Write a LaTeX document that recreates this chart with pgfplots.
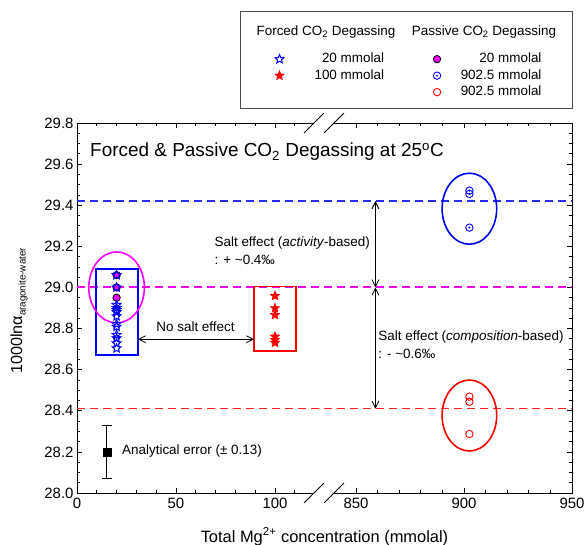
\documentclass[border=0pt]{standalone}
\usepackage{fontspec}
\setmainfont{Liberation Sans}
\usepackage{pgfplots}
\pgfplotsset{compat=1.18}
\usetikzlibrary{arrows.meta}
\definecolor{mblue}{RGB}{0,0,255}
\definecolor{mmag}{RGB}{255,0,255}
\definecolor{mred}{RGB}{255,0,0}
\definecolor{dblue}{RGB}{40,40,255}
\definecolor{dmag}{RGB}{240,0,240}
\definecolor{dred}{RGB}{255,30,30}

\newcommand{\starpath}{%
 \pgfpathmoveto{\pgfpointpolar{90}{\pgfplotmarksize}}%
 \pgfpathlineto{\pgfpointpolar{126}{0.45\pgfplotmarksize}}%
 \pgfpathlineto{\pgfpointpolar{162}{\pgfplotmarksize}}%
 \pgfpathlineto{\pgfpointpolar{198}{0.45\pgfplotmarksize}}%
 \pgfpathlineto{\pgfpointpolar{234}{\pgfplotmarksize}}%
 \pgfpathlineto{\pgfpointpolar{270}{0.45\pgfplotmarksize}}%
 \pgfpathlineto{\pgfpointpolar{306}{\pgfplotmarksize}}%
 \pgfpathlineto{\pgfpointpolar{342}{0.45\pgfplotmarksize}}%
 \pgfpathlineto{\pgfpointpolar{18}{\pgfplotmarksize}}%
 \pgfpathlineto{\pgfpointpolar{54}{0.45\pgfplotmarksize}}%
 \pgfpathclose}
\pgfdeclareplotmark{ostar}{\starpath\pgfusepathqstroke}
\pgfdeclareplotmark{fstar}{\starpath\pgfusepathqfillstroke}
\pgfdeclareplotmark{odot}{\pgfpathcircle{\pgfpointorigin}{\pgfplotmarksize}\pgfusepathqstroke
  \pgfpathcircle{\pgfpointorigin}{0.3\pgfplotmarksize}\pgfusepathqfill}

\pgfplotsset{
  legimg/.style={only marks, legend image code/.code={\path[draw=none,fill=none] (-5bp,-4bp) rectangle (5bp,4bp); \draw[##1] plot coordinates {(0bp,0bp)};}},
  bstar/.style={color=mblue, only marks, mark=ostar, mark size=4.6bp, mark options={line width=1bp}},
  rstar/.style={color=mred, only marks, mark=fstar, mark size=4.8bp, mark options={fill=mred, line width=0.6bp}},
  mcirc/.style={only marks, mark=*, mark size=3.7bp, mark options={fill=mmag, draw=black, line width=0.8bp}},
  bring/.style={color=mblue, only marks, mark=odot, mark size=3.7bp, mark options={fill=mblue, line width=0.9bp}},
  rring/.style={color=mred, only marks, mark=o, mark size=3.7bp, mark options={line width=0.9bp}},
}
\tikzset{sarrow/.style={{Straight Barb[length=7bp,width=7bp]}-{Straight Barb[length=7bp,width=7bp]}, line width=0.8bp, black}}

\begin{document}
\begin{tikzpicture}
\begin{axis}[
  at={(0,0)}, anchor=south west,
  width=495bp, height=370bp, scale only axis,
  x coord trafo/.code={\pgfmathparse{#1<500 ? 1.98*#1 : 279+(#1-850)*2.16}},
  x coord inv trafo/.code={\pgfmathparse{#1<240 ? #1/1.98 : 850+(#1-279)/2.16}},
  xmin=0, xmax=950, ymin=28, ymax=29.8,
  xtick={0,50,100,850,900,950}, xticklabels={0,50,100,850,900,950},
  minor xtick={10,20,30,40,60,70,80,90,110,860,870,880,890,910,920,930,940},
  ytick={28.0,28.2,28.4,28.6,28.8,29.0,29.2,29.4,29.6,29.8},
  minor y tick num=3,
  tick align=inside, xtick pos=both, ytick pos=both,
  major tick length=5bp, minor tick length=3bp,
  axis line style={line width=0.9bp},
  tick style={line width=0.7bp, black},
  /pgf/number format/assume math mode=true,
  ticklabel style={font=\fontsize{15}{15}\selectfont},
  xticklabel style={yshift=-1.5bp},
  yticklabel style={/pgf/number format/.cd, fixed, fixed zerofill, precision=1},
  xlabel={Total Mg\textsuperscript{2+} concentration (mmolal)},
  xlabel style={font=\fontsize{16.5}{18}\selectfont, at={(axis description cs:0.5,-0.118)}, anchor=center},
  ylabel={1000lnα\raisebox{-3.5bp}{\fontsize{9.8}{10}\selectfont aragonite-water}},
  ylabel style={font=\fontsize{16.2}{18}\selectfont, at={(axis description cs:-0.117,0.492)}, anchor=center},
  clip=false,
  legend columns=2,
  legend cell align=right,
  legend style={at={(axis description cs:0.9408,1.1933)}, anchor=north east,
    draw=none, fill=none, inner sep=0pt, row sep=1.5bp,
    nodes={inner sep=1bp, text height=10bp, text depth=3bp, font=\fontsize{13.5}{15}\selectfont},
    /tikz/column 1/.style={column sep=29bp},
    /tikz/column 2/.style={column sep=47bp},
    /tikz/column 3/.style={column sep=17.7bp}},
]
% reference lines
\draw[dblue, dash pattern=on 8bp off 5bp, line width=1.3bp] (axis cs:0,29.42) -- (axis cs:950,29.42);
\draw[dmag, dash pattern=on 8bp off 5bp, line width=1.4bp] (axis cs:0,29.002) -- (axis cs:950,29.002);
\draw[dred, dash pattern=on 8bp off 5bp, line width=1.3bp] (axis cs:0,28.41) -- (axis cs:950,28.41);

% boxes and ellipses
\draw[mblue, line width=1.6bp] (axis cs:9.6,28.67) rectangle (axis cs:30.7,29.09);
\draw[mred, line width=1.6bp] (axis cs:89.5,28.69) rectangle (axis cs:110.6,29.005);
\draw[mmag, line width=1.6bp] (axis cs:20,29.0) ellipse [x radius=27.8bp, y radius=35.5bp];
\draw[mblue, line width=1.6bp] (axis cs:902.5,29.383) ellipse [x radius=27.3bp, y radius=35.5bp];
\draw[mred, line width=1.6bp] (axis cs:902.5,28.377) ellipse [x radius=27.3bp, y radius=35.5bp];

% data
\addplot[mcirc, forget plot] coordinates {(20,29.06) (20,29.00) (20,28.95)};
\addplot[bstar, forget plot] coordinates {
 (20,29.06) (20,29.00) (20,28.915) (20,28.90) (20,28.89) (20,28.88) (20,28.86)
 (20,28.822) (20,28.809) (20,28.769) (20,28.753) (20,28.728) (20,28.704)};
\addplot[rstar, forget plot] coordinates {
 (100,28.959) (100,28.899) (100,28.866) (100,28.761) (100,28.745) (100,28.731)};
\addplot[bring, forget plot] coordinates {(902.5,29.471) (902.5,29.455) (902.5,29.291)};
\addplot[rring, forget plot] coordinates {(902.5,28.469) (902.5,28.444) (902.5,28.287)};

% analytical error
\addplot[black, only marks, mark=square*, mark size=4bp, forget plot,
  error bars/.cd, y dir=both, y explicit,
  error bar style={line width=0.8bp, black},
  error mark options={rotate=90, black, mark size=5bp, line width=0.8bp}]
  coordinates {(15,28.2) +- (0,0.13)};

% arrows
\draw[sarrow] (axis cs:859,29.42) -- (axis cs:859,29.0);
\draw[sarrow] (axis cs:859,29.0) -- (axis cs:859,28.41);
\draw[sarrow] (axis cs:30.7,28.748) -- (axis cs:89.5,28.748);

% texts
\node[anchor=west, inner sep=0pt, font=\fontsize{19}{20}\selectfont] at (axis description cs:0.0263,0.9216)
  {Forced \& Passive CO\textsubscript{2} Degassing at 25\textsuperscript{o}C};
\node[anchor=west, align=left, inner sep=0pt, font=\fontsize{13.5}{18.3}\selectfont] at (axis cs:69.4,29.178)
  {Salt effect (\textit{activity}-based)\\: + \textasciitilde0.4‰};
\node[anchor=west, align=left, inner sep=0pt, font=\fontsize{13.5}{17.5}\selectfont] at (axis cs:860.3,28.722)
  {Salt effect (\textit{composition}-based)\\: - \textasciitilde0.6‰};
\node[anchor=west, inner sep=0pt, font=\fontsize{13.5}{15}\selectfont] at (axis cs:40,28.809) {No salt effect};
\node[anchor=west, inner sep=0pt, font=\fontsize{13.5}{15}\selectfont] at (axis cs:22.7,28.206) {Analytical error (± 0.13)};

% legend box and headers
\draw[black!70, line width=1bp] (axis description cs:0.3293,1.0405) rectangle (axis description cs:1.0,1.3);
\node[font=\fontsize{13.5}{15}\selectfont] at (axis description cs:0.503,1.2460) {Forced CO\textsubscript{2} Degassing};
\node[font=\fontsize{13.5}{15}\selectfont] at (axis description cs:0.8222,1.2460) {Passive CO\textsubscript{2} Degassing};

\addlegendimage{bstar, legimg}\addlegendentry{20 mmolal}
\addlegendimage{mcirc, legimg}\addlegendentry{20 mmolal}
\addlegendimage{rstar, legimg}\addlegendentry{100 mmolal}
\addlegendimage{bring, legimg}\addlegendentry{902.5 mmolal}
\addlegendimage{empty legend}\addlegendentry{}
\addlegendimage{rring, legimg}\addlegendentry{902.5 mmolal}

% axis break marks
\fill[white] (rel axis cs:0.4788,-0.005) rectangle (rel axis cs:0.5192,0.005);
\fill[white] (rel axis cs:0.4788,0.995) rectangle (rel axis cs:0.5192,1.005);
\draw[black, line width=0.8bp] (rel axis cs:0.4586,-0.027) -- (rel axis cs:0.499,0.027);
\draw[black, line width=0.8bp] (rel axis cs:0.499,-0.027) -- (rel axis cs:0.5394,0.027);
\draw[black, line width=0.8bp] (rel axis cs:0.4586,0.973) -- (rel axis cs:0.499,1.027);
\draw[black, line width=0.8bp] (rel axis cs:0.499,0.973) -- (rel axis cs:0.5394,1.027);

\coordinate (o) at (rel axis cs:0,0);
\end{axis}
\pgfresetboundingbox
\path[use as bounding box] (o) ++(-77bp,-52bp) rectangle ++(586bp,545bp);
\end{tikzpicture}
\end{document}
